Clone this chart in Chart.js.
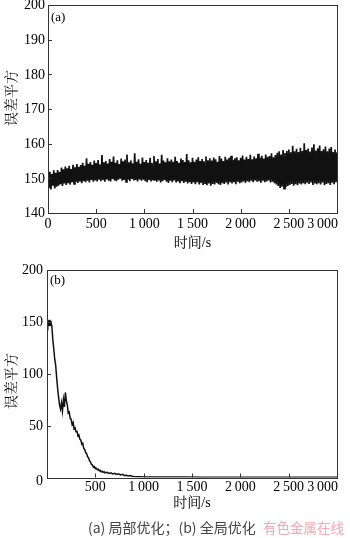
<!DOCTYPE html>
<html>
<head>
<meta charset="utf-8">
<script src="https://cdn.jsdelivr.net/npm/chart.js@4.4.1/dist/chart.umd.min.js"></script>
<style>
  html, body { margin:0; padding:0; background:#fff; }
  #wrap { position:relative; width:350px; height:538px; overflow:hidden; }
  canvas { position:absolute; left:0; top:0; }
  #cap { position:absolute; left:88px; top:517px; white-space:nowrap;
         font-family:'Noto Sans CJK SC','Noto Sans',sans-serif; font-size:14px; color:#444; line-height:20px; }
  #wm { position:absolute; left:263px; top:517px; white-space:nowrap; font-family:'Noto Sans CJK SC',sans-serif;
        font-size:13.5px; color:#f3a9b0; line-height:20px; }
</style>
</head>
<body>
<div id="wrap">
  <canvas id="ca" width="350" height="538"></canvas>
  <canvas id="cb" width="350" height="538"></canvas>
  <div id="cap">(a) 局部优化；(b) 全局优化</div>
  <div id="wm">有色金属在线</div>
</div>
<script>
// ---------- data ----------
const xTickValues = [0, 500, 1000, 1500, 2000, 2500, 3000];
const xTickLabels = ['0', '500', '1\u2009000', '1\u2009500', '2\u2009000', '2\u2009500', '3\u2009000'];
const yTicksA = [140, 150, 160, 170, 180, 190, 200];
const yTicksB = [0, 50, 100, 150, 200];
const yTitle = '误差平方';
const xTitle = '时间/s';

// (a) local optimisation: value every 10 s, 0..3000 s
const timeA = [];
for (let t = 0; t <= 3000; t += 10) timeA.push(t);
const errA = [
  150.8,147.2,151.9,146.8,151.2,147.9,152.3,147.1,151.6,147.6,
  152.4,147.9,151.8,148.3,153.1,147.8,152.6,148.5,153.4,148.1,
  152.9,148.6,153.6,148.2,152.7,148.9,153.9,148.4,153.2,149.0,
  154.1,148.7,153.3,149.1,153.8,148.6,154.5,149.2,153.6,148.9,
  155.8,149.3,154.2,148.8,154.7,149.5,153.9,149.0,155.1,149.4,
  154.4,149.1,155.3,149.6,154.0,149.2,156.7,149.5,154.6,149.0,
  155.0,149.7,154.3,149.3,155.6,149.1,154.8,149.8,156.3,149.4,
  154.5,149.2,155.2,149.6,154.1,149.9,155.7,149.3,154.9,149.5,
  155.4,149.0,156.9,149.6,154.6,149.2,155.1,149.8,154.3,149.4,
  157.2,149.5,154.8,149.1,155.5,149.7,154.2,149.3,156.0,149.6,
  154.7,149.2,155.3,148.9,154.5,149.5,155.9,149.1,154.4,149.6,
  156.4,149.3,154.9,149.0,155.6,149.4,154.3,148.8,156.8,149.2,
  155.1,149.5,154.6,149.0,155.8,148.7,154.9,149.3,155.4,148.9,
  154.8,149.4,156.2,148.8,155.0,149.1,154.5,148.6,155.7,149.2,
  155.3,148.7,154.7,149.0,157.0,148.5,155.2,148.9,154.6,148.4,
  155.9,148.8,154.8,148.3,155.4,148.9,156.1,148.2,155.0,148.7,
  155.6,148.1,154.9,148.6,156.3,148.0,155.2,148.5,155.8,147.9,
  155.1,148.4,156.0,148.2,155.5,148.7,154.8,148.3,156.4,148.1,
  155.7,148.6,155.0,148.4,156.2,148.8,155.4,148.2,155.9,148.9,
  156.5,148.5,155.3,148.9,155.8,148.3,156.1,149.0,155.2,148.6,
  155.9,148.8,156.6,149.1,155.4,148.7,156.2,149.2,155.6,148.9,
  156.8,149.3,155.5,148.9,156.3,149.4,155.8,149.0,157.1,149.2,
  156.0,148.7,156.5,149.3,155.7,148.9,156.9,149.1,156.2,149.4,
  156.4,148.8,157.2,149.0,156.1,148.6,156.7,148.2,157.4,147.8,
  157.8,147.2,156.9,147.6,158.2,147.0,157.3,147.5,157.9,147.8,
  158.3,148.1,157.5,148.4,159.4,147.9,157.8,148.3,158.5,148.0,
  157.6,148.5,158.8,148.2,157.9,148.6,160.1,148.3,158.2,148.7,
  158.6,148.4,157.7,148.8,158.9,148.1,159.8,148.5,158.0,148.3,
  158.7,148.6,159.5,148.2,157.9,148.8,158.4,148.0,159.2,148.4,
  157.8,148.6,158.6,148.1,159.0,148.7,157.6,148.3,158.3,148.9,
  157.5
];

// (b) global optimisation
const timeB = [0,5,10,15,20,25,30,35,40,45,50,
  60,70,80,90,100,110,120,130,140,150,160,170,180,190,200,
  210,220,230,240,250,260,270,280,290,300,310,320,330,340,350,
  360,370,380,390,400,410,420,430,440,450,460,470,480,490,500,
  510,520,530,540,550,560,570,580,590,600,620,640,660,680,700,
  720,740,760,780,800,820,840,860,880,900,950,1000,1100,1200,1400,
  1600,1800,2000,2200,2400,2600,2800,3000];
const errB = [150,147,152,146.5,151.5,147.5,152,146.8,151,147,146,
  133,124,114,108,96,86,77,70,66,72,64,75,68,82,74,
  70,62,63,57,56,51,53,47,48,44,45,40,41,37,36,
  32,33,28,27,24,23,20,19,16,15,12.5,12,10,10.5,8.5,
  9,7.5,8,6.5,7,5.5,6,5,5.5,4.5,5,4,4.5,3.5,4,
  3,3.5,2.5,3,2,2.2,1.5,1.8,1.2,1,0.8,0.6,0.5,0.4,0.4,
  0.3,0.35,0.3,0.3,0.3,0.3,0.3,0.3];

// ---------- drawing helpers ----------
const NUM_FONT = "14px 'Liberation Serif','Times New Roman',serif";
const CJK_FONT = "14px 'Liberation Serif','Noto Serif CJK SC','Noto Sans CJK SC',serif";

function decor(cfg) {
  return {
    id: 'decor',
    afterDraw(chart) {
      const ctx = chart.ctx, a = chart.chartArea;
      const xs = chart.scales.x, ys = chart.scales.y;
      ctx.save();
      ctx.strokeStyle = '#333';
      ctx.lineWidth = 1;
      ctx.strokeRect(Math.round(a.left) + 0.5, Math.round(a.top) + 0.5,
                     Math.round(a.right - a.left), Math.round(a.bottom - a.top));
      ctx.beginPath();
      xTickValues.forEach(v => {
        const px = Math.round(xs.getPixelForValue(v)) + 0.5;
        ctx.moveTo(px, a.bottom); ctx.lineTo(px, a.bottom - 4);
      });
      cfg.yTicks.forEach(v => {
        const py = Math.round(ys.getPixelForValue(v)) + 0.5;
        ctx.moveTo(a.left, py); ctx.lineTo(a.left + 4, py);
      });
      ctx.stroke();
      ctx.fillStyle = '#000';
      ctx.font = NUM_FONT;
      ctx.textAlign = 'right'; ctx.textBaseline = 'middle';
      cfg.yTicks.forEach(v => {
        let py = ys.getPixelForValue(v) + 0.5;
        if (v === 0 && cfg.skipX0) py += 3;
        ctx.fillText(String(v), a.left - cfg.yPad, py);
      });
      xTickValues.forEach((v, i) => {
        if (cfg.skipX0 && v === 0) return;
        const px = xs.getPixelForValue(v);
        if (i === xTickValues.length - 1) {
          ctx.textAlign = 'right';
          ctx.fillText(xTickLabels[i], a.right + 1, a.bottom + cfg.xLabelDy);
        } else {
          ctx.textAlign = 'center';
          ctx.fillText(xTickLabels[i], px, a.bottom + cfg.xLabelDy);
        }
      });
      ctx.font = CJK_FONT;
      ctx.textAlign = 'center';
      ctx.fillText(xTitle, (a.left + a.right) / 2, a.bottom + cfg.xTitleDy);
      ctx.save();
      ctx.translate(12, cfg.yTitleY);
      ctx.rotate(-Math.PI / 2);
      ctx.fillText(yTitle, 0, 0);
      ctx.restore();
      ctx.font = "13px 'Liberation Serif',serif";
      ctx.textAlign = 'left';
      ctx.fillText(cfg.panel, a.left + 3, a.top + cfg.panelDy);
      ctx.restore();
    }
  };
}

function makeChart(id, times, vals, yMin, yMax, pad, lw, cfg) {
  return new Chart(document.getElementById(id), {
    type: 'line',
    data: {
      datasets: [{
        data: times.map((t, i) => ({ x: t, y: vals[i] })),
        borderColor: '#111',
        borderWidth: lw,
        pointRadius: 0,
        tension: 0,
        fill: false
      }]
    },
    options: {
      responsive: false,
      animation: false,
      devicePixelRatio: 1,
      layout: { padding: pad },
      plugins: { legend: { display: false }, tooltip: { enabled: false } },
      scales: {
        x: {
          type: 'linear', min: 0, max: 3000,
          ticks: { display: false }, grid: { display: false }, border: { display: false },
          afterFit(s) { s.height = 0; s.paddingLeft = 0; s.paddingRight = 0; }
        },
        y: {
          min: yMin, max: yMax,
          ticks: { display: false }, grid: { display: false }, border: { display: false },
          afterFit(s) { s.width = 0; s.paddingTop = 0; s.paddingBottom = 0; }
        }
      }
    },
    plugins: [decor(cfg)]
  });
}

makeChart('ca', timeA, errA, 140, 200,
  { left: 48, right: 13, top: 5, bottom: 538 - 213 }, 1.7,
  { yTicks: yTicksA, yPad: 3, xLabelDy: 11, xTitleDy: 30, yTitleY: 98, panel: '(a)', panelDy: 13, skipX0: false });

makeChart('cb', timeB, errB, 0, 200,
  { left: 47, right: 13, top: 270, bottom: 538 - 477.5 }, 1.5,
  { yTicks: yTicksB, yPad: 4, xLabelDy: 10, xTitleDy: 26, yTitleY: 381, panel: '(b)', panelDy: 11, skipX0: true });
</script>
</body>
</html>
